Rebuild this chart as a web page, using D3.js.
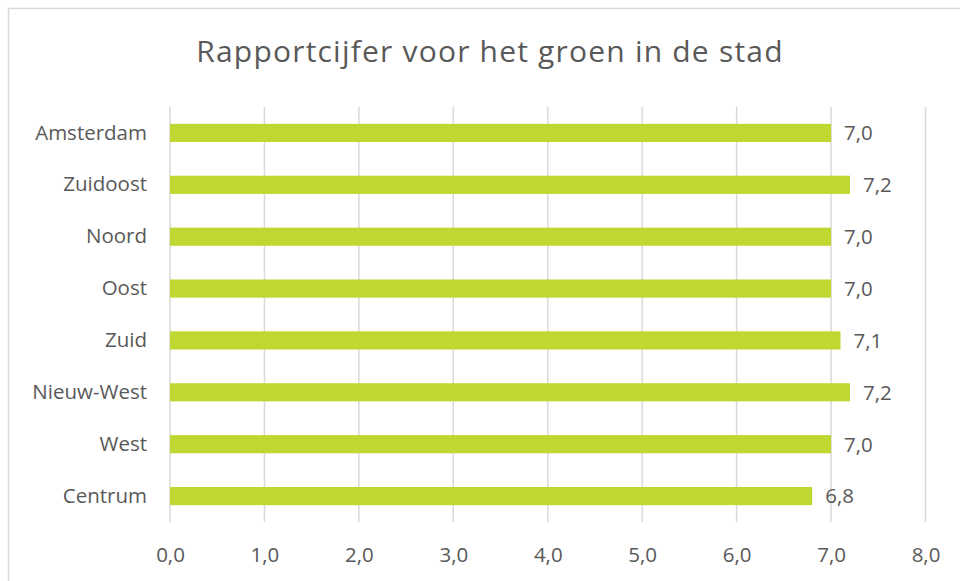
<!DOCTYPE html>
<html>
<head>
<meta charset="utf-8">
<script src="https://cdn.jsdelivr.net/npm/d3@7"></script>
<style>
  html, body { margin: 0; padding: 0; background: #fff; }
  svg { display: block; }
  text { font-family: "Open Sans", Lato, sans-serif; fill: #595959; }
</style>
</head>
<body>
<svg id="chart" width="960" height="581"></svg>
<script>
// Stadsdelen en hun rapportcijfer
const categories = ["Amsterdam", "Zuidoost", "Noord", "Oost", "Zuid", "Nieuw-West", "West", "Centrum"];
const values = [7.0, 7.2, 7.0, 7.0, 7.1, 7.2, 7.0, 6.8];
const tickValues = [0, 1, 2, 3, 4, 5, 6, 7, 8];
const title = "Rapportcijfer voor het groen in de stad";

const FONT = "'Open Sans', Lato, sans-serif";
const svg = d3.select("#chart");
const fmt = v => d3.format(".1f")(v).replace(".", ",");

// Chart frame
svg.append("rect")
  .attr("x", 8.5).attr("y", 8.5)
  .attr("width", 980).attr("height", 600)
  .attr("fill", "#fff")
  .attr("stroke", "#d9d9d9").attr("stroke-width", 1.5);

const plot = { left: 170, right: 925.5, top: 107, bottom: 522 };

const x = d3.scaleLinear().domain([0, 8]).range([plot.left, plot.right]);
const y = d3.scaleBand().domain(categories).range([plot.top, plot.bottom]).paddingInner(0.65).paddingOuter(0.325);

// Title
svg.append("text")
  .attr("x", 490).attr("y", 62)
  .attr("text-anchor", "middle")
  .attr("font-size", 30)
  .attr("letter-spacing", 1.2)
  .text(title);

// Vertical gridlines
svg.append("g")
  .selectAll("line")
  .data(tickValues)
  .join("line")
  .attr("x1", d => x(d)).attr("x2", d => x(d))
  .attr("y1", plot.top).attr("y2", plot.bottom)
  .attr("stroke", "#d9d9d9").attr("stroke-width", 1.5);

// X axis tick labels
const xAxis = d3.axisBottom(x).tickValues(tickValues).tickFormat(fmt).tickSize(0).tickPadding(0);
const gx = svg.append("g").attr("transform", `translate(0, ${plot.bottom})`).call(xAxis);
gx.select(".domain").remove();
gx.selectAll("text")
  .attr("y", 40).attr("dy", null)
  .attr("font-size", 20.5)
  .style("font-family", FONT)
  .attr("fill", "#595959");

// Y axis category labels
const yAxis = d3.axisLeft(y).tickSize(0).tickPadding(23);
const gy = svg.append("g").attr("transform", `translate(${plot.left}, 0)`).call(yAxis);
gy.select(".domain").remove();
gy.selectAll("text")
  .attr("font-size", 20.5)
  .style("font-family", FONT)
  .attr("fill", "#595959");

// Bars
svg.append("g")
  .selectAll("rect")
  .data(categories)
  .join("rect")
  .attr("x", x(0))
  .attr("y", d => y(d))
  .attr("width", (d, i) => x(values[i]) - x(0))
  .attr("height", y.bandwidth())
  .attr("fill", "#bfd730");

// Value labels
svg.append("g")
  .selectAll("text")
  .data(categories)
  .join("text")
  .attr("x", (d, i) => x(values[i]) + 13)
  .attr("y", d => y(d) + y.bandwidth() / 2)
  .attr("dy", "0.36em")
  .attr("font-size", 20.5)
  .text((d, i) => fmt(values[i]));
</script>
</body>
</html>
